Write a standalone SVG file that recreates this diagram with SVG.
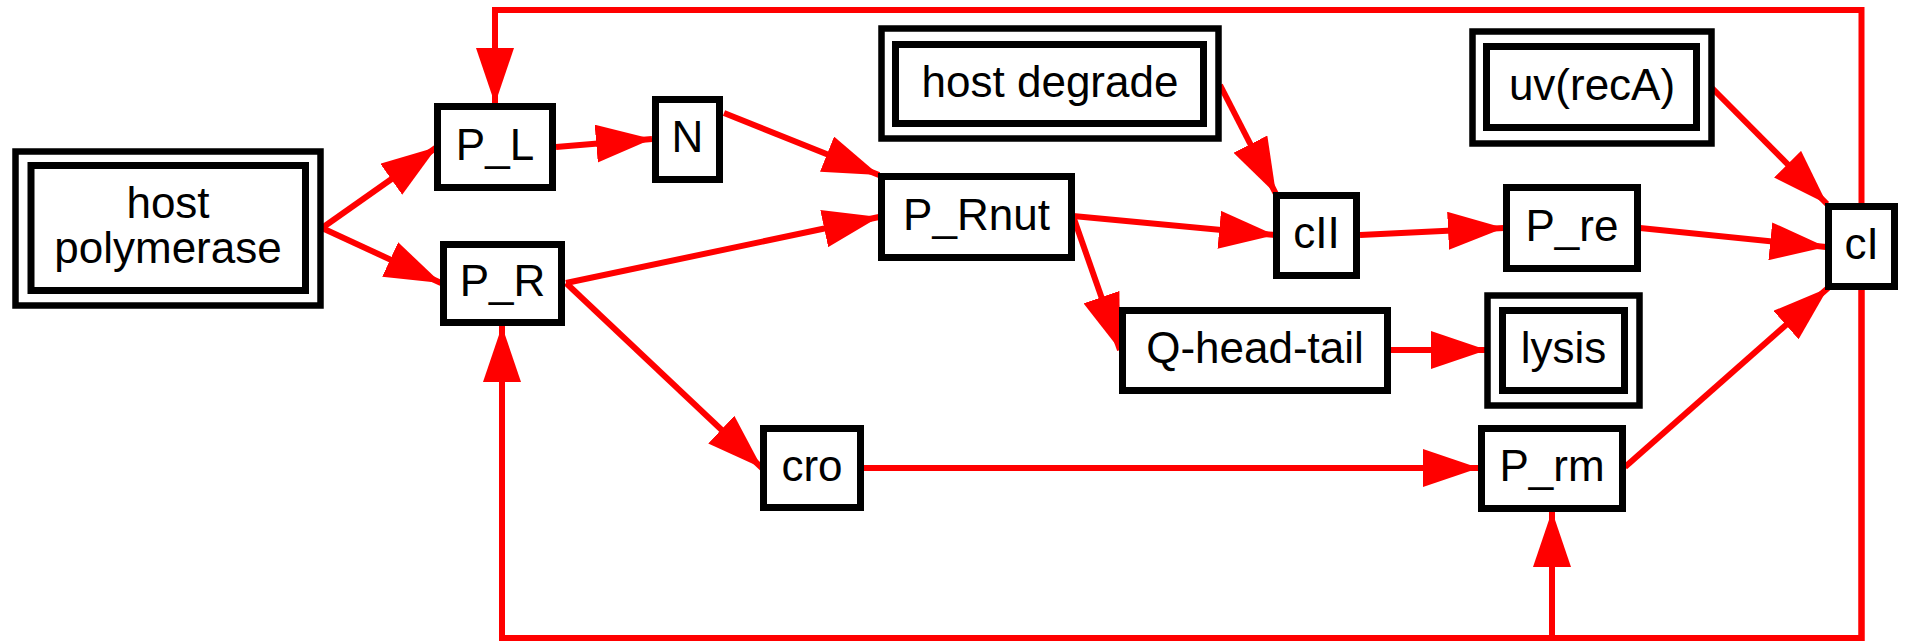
<svg xmlns="http://www.w3.org/2000/svg" width="1907" height="643" viewBox="0 0 1907 643">
<style>
.n{fill:none;stroke:#000;stroke-width:7}
.o{fill:none;stroke:#000;stroke-width:6.5}
.e{fill:none;stroke:#ff0000;stroke-width:6;marker-end:url(#ah)}
text{font-family:"Liberation Sans",Arial,sans-serif;font-size:44px;fill:#000;text-anchor:middle}
</style>
<defs>
<marker id="ah" markerUnits="userSpaceOnUse" markerWidth="56" markerHeight="38" refX="56" refY="19" orient="auto" viewBox="0 0 56 38">
<path d="M0,0 L56,19 L0,38 z" fill="#ff0000"/>
</marker>
</defs>
<rect width="1907" height="643" fill="#fff"/>
<g id="connectors">
<path class="e" d="M322,228 L437,147"/>
<path class="e" d="M322,228 L441,283"/>
<path class="e" d="M556,147 L652,139"/>
<path class="e" d="M724,113 L879,175"/>
<path class="e" d="M566,283 L879,217"/>
<path class="e" d="M566,283 L762,468"/>
<path class="e" d="M1220,85 L1276,194"/>
<path class="e" d="M1073,216 L1275,235"/>
<path class="e" d="M1073,216 L1120,350"/>
<path class="e" d="M1360,235 L1504,228"/>
<path class="e" d="M1640,228 L1826,247"/>
<path class="e" d="M1712,88 L1827,204"/>
<path class="e" d="M1391,350 L1487,350"/>
<path class="e" d="M864,468 L1479,468"/>
<path class="e" d="M1625,467 L1828,288"/>
<path class="e" d="M1861.5,203 L1861.5,10 L495,10 L495,104"/>
<path class="e" d="M1861.5,290 L1861.5,638 L502,638 L502,326"/>
<path class="e" d="M1861.5,290 L1861.5,638 L1552,638 L1552,511"/>
</g>
<g id="host_polymerase">
<rect class="o" x="15.5" y="151.5" width="305" height="154"/>
<rect class="n" x="31" y="165.5" width="274.5" height="125"/>
<text x="168" y="218">host</text>
<text x="168" y="263">polymerase</text>
</g>
<g id="P_L">
<rect class="n" x="437.5" y="106.5" width="115" height="81"/>
<text x="495" y="160">P_L</text>
</g>
<g id="N">
<rect class="n" x="655.5" y="99.5" width="64" height="80"/>
<text x="687.5" y="152">N</text>
</g>
<g id="P_R">
<rect class="n" x="443.5" y="244.5" width="118" height="78"/>
<text x="502.5" y="296">P_R</text>
</g>
<g id="host_degrade">
<rect class="o" x="881.5" y="28.5" width="337" height="110"/>
<rect class="n" x="895.5" y="44.5" width="308" height="79"/>
<text x="1050" y="97">host degrade</text>
</g>
<g id="P_Rnut">
<rect class="n" x="881.5" y="176.5" width="190" height="81"/>
<text x="976.5" y="230">P_Rnut</text>
</g>
<g id="cII">
<rect class="n" x="1276.5" y="195.5" width="80" height="80"/>
<text x="1316.5" y="248">cII</text>
</g>
<g id="P_re">
<rect class="n" x="1506.5" y="187.5" width="131" height="81"/>
<text x="1572" y="241">P_re</text>
</g>
<g id="uv_recA">
<rect class="o" x="1472.5" y="31.5" width="239" height="112"/>
<rect class="n" x="1486.5" y="46.5" width="210" height="81"/>
<text x="1592" y="100">uv(recA)</text>
</g>
<g id="cI">
<rect class="n" x="1828.5" y="206.5" width="66" height="80"/>
<text x="1861.5" y="259">cI</text>
</g>
<g id="Q_head_tail">
<rect class="n" x="1122.5" y="310.5" width="265" height="80"/>
<text x="1255" y="363">Q-head-tail</text>
</g>
<g id="lysis">
<rect class="o" x="1487.5" y="295.5" width="152" height="110"/>
<rect class="n" x="1502.5" y="310.5" width="122" height="80"/>
<text x="1563.5" y="363">lysis</text>
</g>
<g id="cro">
<rect class="n" x="763.5" y="428.5" width="97" height="79"/>
<text x="812" y="481">cro</text>
</g>
<g id="P_rm">
<rect class="n" x="1481.5" y="428.5" width="141" height="80"/>
<text x="1552" y="481">P_rm</text>
</g>
</svg>
